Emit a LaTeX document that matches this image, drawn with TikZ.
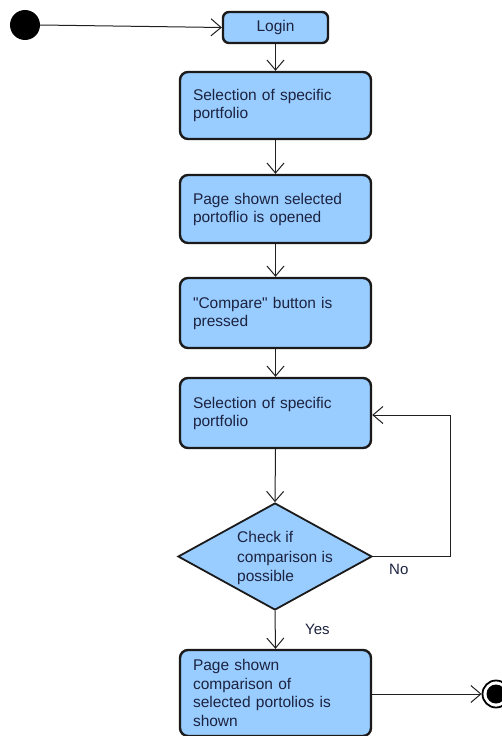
\documentclass[tikz,border=0pt]{standalone}
\usepackage{fontspec}
\setmainfont{Liberation Sans}[Ligatures=TeXOff]
\usetikzlibrary{arrows.meta,shapes.geometric}
\definecolor{boxfill}{HTML}{99CCFF}
\definecolor{boxline}{HTML}{1A1A1A}
\definecolor{txt}{HTML}{1C2340}
\definecolor{conn}{HTML}{202020}
\tikzset{
  actbox/.style={draw=boxline, line width=2.4pt, fill=boxfill, rounded corners=8pt,
    minimum width=191pt, text width=165pt, inner xsep=13pt, inner ysep=0pt, align=left,
    text=txt, font=\fontsize{15.5}{18}\selectfont},
  loginbox/.style={draw=boxline, line width=2.4pt, fill=boxfill, rounded corners=6pt,
    minimum width=105pt, minimum height=31pt, inner sep=0pt, text=txt,
    font=\fontsize{15.5}{18}\selectfont},
  decision/.style={diamond, draw=boxline, line width=1.8pt, fill=boxfill,
    minimum width=194pt, minimum height=107pt, inner sep=0pt},
  flow/.style={draw=conn, line width=1pt, -{Straight Barb[length=10pt,width=17pt,line width=1pt]}},
  lbl/.style={text=txt, font=\fontsize{15}{18}\selectfont, inner sep=0pt, anchor=base west}
}
\begin{document}
\begin{tikzpicture}[x=1pt,y=-1pt]
\useasboundingbox (0,0) rectangle (502,736);
% start
\node[circle, fill=black, minimum size=30pt, inner sep=0pt] (start) at (25,25) {};
% login
\node[loginbox] (login) at (275.5,27.5) {Login};
% boxes
\node[actbox, minimum height=67pt] (b1) at (275.5,105.5) {Selection of specific\\portfolio};
\node[actbox, minimum height=68pt] (b2) at (275.5,209) {Page shown selected\\portoflio is opened};
\node[actbox, minimum height=70pt] (b3) at (275.5,313) {"Compare" button is\\pressed};
\node[actbox, minimum height=70pt] (b4) at (275.5,413) {Selection of specific\\portfolio};
% decision
\node[decision] (d) at (275,556.5) {};
\node[align=left, inner sep=0pt, text=txt, font=\fontsize{15.5}{19.5}\selectfont] (dt) at (285,558) {Check if\\comparison is\\possible};
% final box
\node[actbox, minimum height=86pt, font=\fontsize{15.5}{18.5}\selectfont] (b5) at (275.5,693) {Page shown\\comparison of\\selected portolios is\\shown};
% end
\node[circle, draw=black, line width=1.8pt, fill=white, minimum size=27pt, inner sep=0pt] (endo) at (496,694) {};
\node[circle, fill=black, minimum size=19pt, inner sep=0pt] (endi) at (496,694) {};
% loop corner coordinates
\coordinate (c1) at (450,556.5);
\coordinate (c2) at (450,415);
% connectors
\draw[flow] (start.east) -- (login.west);
\draw[flow] (login.south) -- (b1.north);
\draw[flow] (b1.south) -- (b2.north);
\draw[flow] (b2.south) -- (b3.north);
\draw[flow] (b3.south) -- (b4.north);
\draw[flow] (b4.south) -- (d.north);
\draw[flow] (d.south) -- (b5.north);
\draw[flow] (d.east) -- (c1) -- (c2) -- (b4.east |- c2);
\draw[flow] (b5.east |- endo) -- (endo.west);
% labels
\node[lbl] (no) at (389,574) {No};
\node[lbl] (yes) at (305,634) {Yes};
\end{tikzpicture}
\end{document}
